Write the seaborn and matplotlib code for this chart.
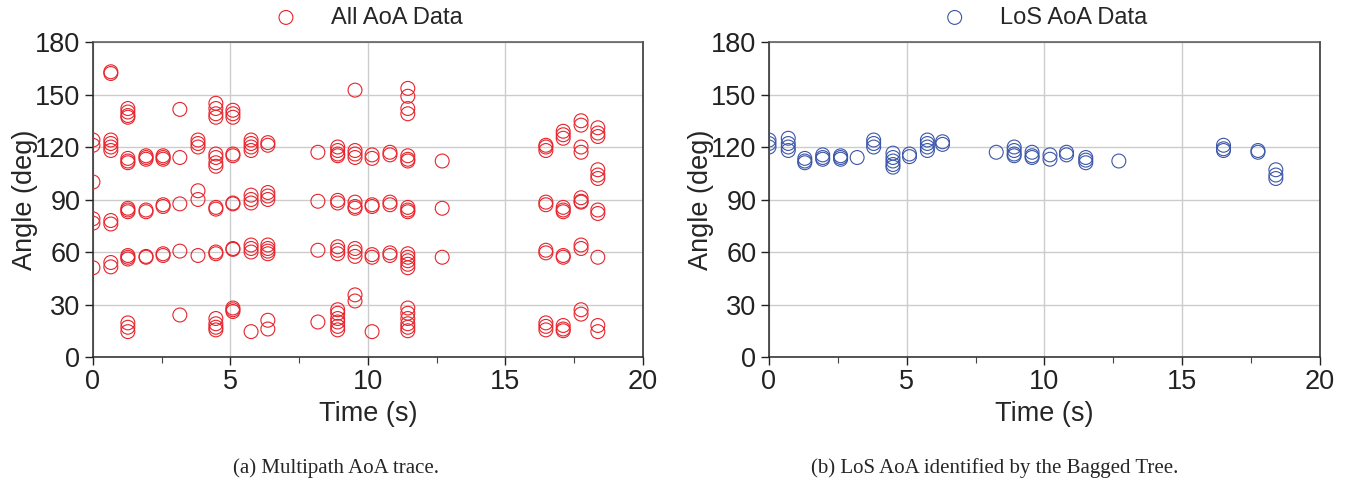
import numpy as np
import pandas as pd
import matplotlib
matplotlib.use("Agg")
import matplotlib.pyplot as plt
import seaborn as sns

### data
# multipath AoA: one time stamp per burst, list of angles seen at that time
all_times = [0.0, 0.65, 1.27, 1.93, 2.55, 3.16, 3.82, 4.47, 5.09, 5.75, 6.36,
             8.18, 8.9, 9.53, 10.15, 10.8, 11.45, 12.7, 16.47, 17.1, 17.75, 18.36]
all_angles = [
    [124, 121, 100, 79, 76.5, 51],
    [163, 162, 124, 122, 120, 118, 78, 76, 54, 51.5],
    [142, 140, 138, 137, 113.5, 112, 111, 85, 84, 83, 58, 57, 56, 19.5, 17, 14.5],
    [115, 114, 113, 84, 83, 57.5, 57],
    [115, 114, 113, 87, 86, 59, 58],
    [141.5, 114, 87.5, 60.5, 24],
    [124, 122, 120, 95, 90, 58],
    [145, 142, 139, 137, 116, 114, 111, 109, 85.5, 84.5, 60, 59, 22, 19, 17, 15.5],
    [141, 139, 137, 116, 115, 88, 87.5, 62, 61.5, 28, 27, 26],
    [124, 122, 120, 118, 92.5, 90, 88, 64, 62, 60, 14.5],
    [122.5, 121, 94, 92, 90, 64, 62, 60.5, 59, 21, 16],
    [117, 89, 61, 20],
    [120, 118, 116, 115, 89.5, 88, 63, 61, 59, 27, 25, 22, 20, 17.5, 15.5],
    [152.5, 118, 116, 114, 88.5, 86, 85, 62, 60, 57.5, 35.5, 32],
    [115.5, 113.5, 87, 86, 58.5, 57, 14.5],
    [117, 115.5, 88.5, 87, 59.5, 58],
    [153.5, 149, 142, 139, 115, 113, 112, 85.5, 84, 83, 59, 57, 55, 53, 51,
     28, 25, 22, 19, 17, 15],
    [112, 85, 57],
    [121, 120, 118, 88.5, 87, 61, 59.5, 19.5, 17.5, 15.5],
    [129, 127, 125, 85.5, 84, 83, 58, 57, 18, 16, 15],
    [135, 132.5, 120, 117, 91, 89, 88.5, 64, 62, 27, 24.5],
    [131, 128, 126, 107, 104, 102, 84, 82, 57, 18, 14.5],
]

# LoS AoA picked by the bagged tree
los_times = [0.0, 0.7, 1.3, 1.95, 2.6, 3.2, 3.8, 4.5, 5.1, 5.75, 6.3,
             8.25, 8.9, 9.55, 10.2, 10.8, 11.5, 12.7, 16.5, 17.75, 18.4]
los_angles = [
    [124, 122, 120],
    [125, 122, 120, 118],
    [113.5, 112, 111],
    [115.5, 114, 113],
    [115, 114, 113],
    [114],
    [124, 122, 120],
    [116.5, 114, 112, 110, 108.5],
    [116, 114.5],
    [124, 122, 120, 118],
    [123, 121.5],
    [117],
    [120, 118, 116, 115],
    [117, 115, 114],
    [115.5, 113],
    [117, 115.5],
    [114, 112.5, 111],
    [112],
    [121, 119, 118],
    [118, 117],
    [107, 104, 102],
]


def to_frame(times, angles):
    rows = [(t, a) for t, group in zip(times, angles) for a in group]
    return pd.DataFrame(rows, columns=["Time", "Angle"])


all_df = to_frame(all_times, all_angles)
los_df = to_frame(los_times, los_angles)

sns.set_style("white")
plt.rcParams["font.family"] = ["Liberation Sans", "DejaVu Sans"]

fig = plt.figure(figsize=(13.51, 4.84), dpi=100)
ax1 = fig.add_axes([0.0688, 0.2624, 0.4071, 0.6508])
ax2 = fig.add_axes([0.5692, 0.2624, 0.4078, 0.6508])

panels = [(ax1, all_df, "#e8222a", "All AoA Data", "(a) Multipath AoA trace.", 0.249),
          (ax2, los_df, "#3b55a8", "LoS AoA Data", "(b) LoS AoA identified by the Bagged Tree.", 0.736)]

for ax, df, col, lab, cap, cap_x in panels:
    sns.scatterplot(x="Time", y="Angle", data=df, ax=ax, marker="o", s=100,
                    facecolors="none", edgecolor=col, linewidth=0.8,
                    label=lab, zorder=3)
    ax.set_xlim(0, 20)
    ax.set_ylim(0, 180)
    ax.set_xticks([0, 5, 10, 15, 20])
    ax.set_xticks([2.5, 7.5, 12.5, 17.5], minor=True)
    ax.set_yticks(np.arange(0, 181, 30))
    ax.grid(True, which="major", color="#cccccc", lw=1.0)
    ax.set_axisbelow(True)
    ax.tick_params(axis="both", which="major", direction="out", length=6,
                   width=1, labelsize=19.5, colors="#222222", pad=3)
    ax.tick_params(axis="x", which="minor", direction="out", length=4,
                   width=0.8, bottom=True, colors="#444444")
    ax.tick_params(left=True, bottom=True)
    for sp in ax.spines.values():
        sp.set_color("#262626")
        sp.set_linewidth(1.1)
    ax.spines["top"].set_color("#555555")
    ax.set_xlabel("Time (s)", fontsize=19.5, labelpad=4)
    ax.set_ylabel("Angle (deg)", fontsize=19.5)
    ax.yaxis.set_label_coords(-0.10, 0.5)
    ax.legend(loc="lower center", bbox_to_anchor=(0.49, 0.99), frameon=False,
              fontsize=17, handletextpad=0.9, borderpad=0.2)
    fig.text(cap_x, 0.033, cap, ha="center", va="center",
             fontsize=15, family=["Liberation Serif", "DejaVu Serif"])

plt.savefig("out.png", dpi=100)
